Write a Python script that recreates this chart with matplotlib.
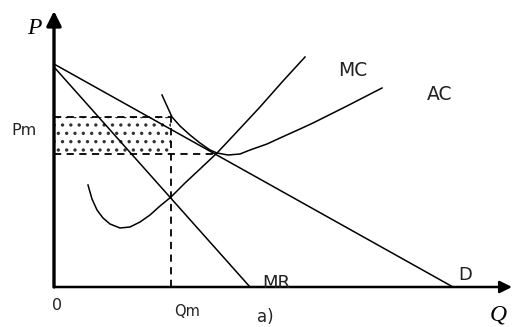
import matplotlib
matplotlib.use("Agg")
import matplotlib.pyplot as plt

# demand and marginal revenue (straight lines)
d_q = [0.0, 39.9]
d_p = [22.3, 0.0]
mr_q = [0.0, 19.6]
mr_p = [22.0, 0.0]

# marginal cost
mc_q = [3.4, 3.8, 4.3, 4.9, 5.6, 6.6, 7.6, 8.6, 9.6, 10.6, 11.7, 13.1, 14.6,
        16.3, 17.9, 20.6, 22.9, 25.1]
mc_p = [10.2, 8.8, 7.7, 6.9, 6.3, 5.9, 6.0, 6.5, 7.2, 8.1, 9.0, 10.4, 11.8,
        13.4, 15.1, 18.0, 20.6, 23.0]

# average cost
ac_q = [10.8, 11.3, 11.8, 12.6, 13.6, 14.6, 15.6, 16.3, 17.4, 18.6, 19.6,
        21.3, 22.6, 24.6, 25.9, 29.3, 32.8]
ac_p = [19.2, 18.1, 17.0, 16.1, 15.2, 14.4, 13.7, 13.4, 13.2, 13.3, 13.7,
        14.3, 14.9, 15.8, 16.4, 18.1, 19.9]

qm = 11.7
pm_top = 17.0
pm_bottom = 13.3
q_ac_min = 16.3

plt.rcParams["hatch.linewidth"] = 1.2

fig = plt.figure(figsize=(5.13, 3.27), dpi=100)
ax = fig.add_axes([0, 0, 1, 1])
ax.set_xlim(-5.4, 45.9)
ax.set_ylim(-4.0, 28.7)
ax.axis("off")

# axes with arrows
ax.annotate("", xy=(0, 27.6), xytext=(0, 0),
            arrowprops=dict(arrowstyle="-|>", color="black", lw=2.4,
                            mutation_scale=22, shrinkA=0, shrinkB=0))
ax.annotate("", xy=(45.8, 0), xytext=(0, 0),
            arrowprops=dict(arrowstyle="-|>", color="black", lw=1.8,
                            mutation_scale=18, shrinkA=0, shrinkB=0))

# shaded profit area
ax.fill_between([0, qm], pm_bottom, pm_top, facecolor="none",
                edgecolor="#333333", hatch="..", linewidth=0)

# dashed guides
ax.plot([0, qm], [pm_top, pm_top], color="black", lw=1.3, ls=(0, (4, 3)))
ax.plot([0, q_ac_min], [pm_bottom, pm_bottom], color="black", lw=1.3, ls=(0, (4, 3)))
ax.plot([qm, qm], [0, pm_top + 0.3], color="black", lw=1.3, ls=(0, (4, 3)))

# curves
ax.plot(d_q, d_p, color="black", lw=1.1)
ax.plot(mr_q, mr_p, color="black", lw=1.1)
ax.plot(mc_q, mc_p, color="black", lw=1.1)
ax.plot(ac_q, ac_p, color="black", lw=1.1)

# labels
serif = dict(family="Liberation Serif", style="italic", fontsize=17,
             ha="center", va="center")
sans = dict(family="DejaVu Sans", ha="center", va="center", color="#222222")
ax.text(-2.0, 25.9, "P", **serif)
ax.text(44.4, -2.8, "Q", **serif)
ax.text(-3.0, 15.7, "Pm", fontsize=11.5, **sans)
ax.text(0.3, -1.8, "0", fontsize=11.5, **sans)
ax.text(13.3, -2.5, "Qm", fontsize=10.5, **sans)
ax.text(21.1, -3.0, "a)", fontsize=12, **sans)
ax.text(22.2, 0.4, "MR", fontsize=13, **sans)
ax.text(41.1, 1.2, "D", fontsize=13, **sans)
ax.text(29.9, 21.7, "MC", fontsize=13.5, **sans)
ax.text(38.6, 19.3, "AC", fontsize=13.5, **sans)

fig.savefig("out.png", dpi=100)
